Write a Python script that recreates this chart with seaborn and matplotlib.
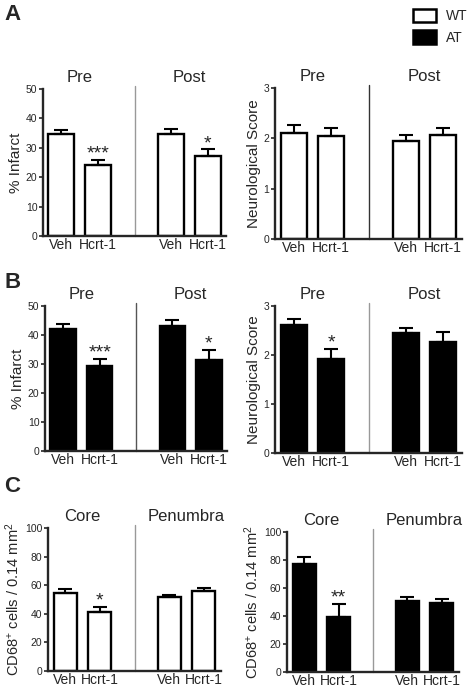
import numpy as np
import pandas as pd
import matplotlib
matplotlib.use('Agg')
import matplotlib.pyplot as plt
import seaborn as sns
from matplotlib.patches import Patch

sns.set_style('ticks')
plt.rcParams['font.family'] = ['Liberation Sans', 'DejaVu Sans']
plt.rcParams['mathtext.fontset'] = 'custom'
plt.rcParams['mathtext.rm'] = 'Liberation Sans'
plt.rcParams['mathtext.it'] = 'Liberation Sans:italic'

# bar positions (gap at 2 between the two groups)
pos = [0, 1, 3, 4]
treat = ['Veh', 'Hcrt-1', 'Veh', 'Hcrt-1']

# A - WT
a_inf = [34.8, 24.2, 34.8, 27.2]
a_inf_err = [1.4, 1.8, 1.7, 2.3]
a_inf_stars = ['', '***', '', '*']
a_neu = [2.11, 2.05, 1.95, 2.07]
a_neu_err = [0.15, 0.16, 0.12, 0.14]
a_neu_stars = ['', '', '', '']

# B - AT
b_inf = [42.1, 29.3, 43.2, 31.5]
b_inf_err = [1.7, 2.5, 2.1, 3.4]
b_inf_stars = ['', '***', '', '*']
b_neu = [2.61, 1.91, 2.44, 2.26]
b_neu_err = [0.13, 0.21, 0.12, 0.20]
b_neu_stars = ['', '*', '', '']

# C - CD68+ cells
c_wt = [54.4, 41.0, 51.4, 55.8]
c_wt_err = [2.6, 3.8, 1.6, 2.0]
c_wt_stars = ['', '*', '', '']
c_at = [77.1, 39.3, 50.5, 49.3]
c_at_err = [4.8, 9.3, 2.8, 3.1]
c_at_stars = ['', '**', '', '']

time_groups = ['Pre', 'Post']
region_groups = ['Core', 'Penumbra']

fig = plt.figure(figsize=(4.74, 6.9), dpi=100)


def panel(rect, vals, errs, stars, color, ymax, step, ylabel, groups,
          divcolor='#999999', width=0.7, ylabel_size=11):
    ax = fig.add_axes(rect)
    df = pd.DataFrame({'pos': pos, 'val': vals})
    sns.barplot(data=df, x='pos', y='val', native_scale=True, color=color,
                saturation=1, edgecolor='black', linewidth=1.7, width=width,
                errorbar=None, ax=ax, zorder=2)
    ax.errorbar(pos, vals, yerr=[np.zeros(len(vals)), errs], fmt='none',
                ecolor='black', elinewidth=1.5, capsize=5, capthick=1.5,
                zorder=3)
    ax.set_xlim(-0.5, 4.5)
    ax.set_ylim(0, ymax)
    ax.set_yticks(np.arange(0, ymax + step / 2, step))
    ax.set_xticks(pos)
    ax.set_xticklabels(treat)
    ax.tick_params(axis='x', length=0, pad=1.5, labelsize=10)
    ax.tick_params(axis='y', length=3, width=1.2, pad=1, labelsize=7.5)
    sns.despine(ax=ax)
    for s in ['left', 'bottom']:
        ax.spines[s].set_linewidth(1.7)
    ax.set_xlabel('')
    ax.set_ylabel(ylabel, fontsize=ylabel_size, labelpad=2)
    ax.axvline(2, ymin=0, ymax=1.02, color=divcolor, lw=1, clip_on=False)
    for x, t in zip([0.5, 3.5], groups):
        ax.annotate(t, xy=(x, 1), xycoords=('data', 'axes fraction'),
                    xytext=(0, 3), textcoords='offset points',
                    ha='center', va='bottom', fontsize=12)
    for p, v, e, s in zip(pos, vals, errs, stars):
        if s:
            ax.annotate(s, xy=(p, v + e), xytext=(0, -2),
                        textcoords='offset points', ha='center',
                        va='bottom', fontsize=14)
    return ax


cd68 = 'CD68$^{+}$ cells / 0.14 mm$^{2}$'

# A
panel([43 / 474, 1 - 236 / 690, 183 / 474, 147 / 690], a_inf, a_inf_err,
      a_inf_stars, 'white', 50, 10, '% Infarct', time_groups)
panel([275 / 474, 1 - 239 / 690, 187 / 474, 151 / 690], a_neu, a_neu_err,
      a_neu_stars, 'white', 3, 1, 'Neurological Score', time_groups,
      divcolor='#333333')
# B
panel([45 / 474, 1 - 451 / 690, 182 / 474, 145 / 690], b_inf, b_inf_err,
      b_inf_stars, 'black', 50, 10, '% Infarct', time_groups,
      divcolor='#555555')
panel([275 / 474, 1 - 453 / 690, 187 / 474, 147 / 690], b_neu, b_neu_err,
      b_neu_stars, 'black', 3, 1, 'Neurological Score', time_groups)
# C
panel([48 / 474, 1 - 671 / 690, 173 / 474, 143 / 690], c_wt, c_wt_err,
      c_wt_stars, 'white', 100, 20, cd68, region_groups, width=0.67,
      ylabel_size=10.5)
panel([287 / 474, 1 - 672 / 690, 172 / 474, 140 / 690], c_at, c_at_err,
      c_at_stars, 'black', 100, 20, cd68, region_groups, width=0.67,
      ylabel_size=10.5)

# panel letters
for lab, y in zip(['A', 'B', 'C'], [14, 282, 487]):
    fig.text(4 / 474, 1 - y / 690, lab, fontsize=16, fontweight='bold',
             ha='left', va='center')

# legend
handles = [Patch(facecolor='white', edgecolor='black', linewidth=1.8),
           Patch(facecolor='black', edgecolor='black', linewidth=1.8)]
fig.legend(handles, ['WT', 'AT'], loc='upper left',
           bbox_to_anchor=(413 / 474, 1 - 9 / 690), frameon=False,
           fontsize=10, handlelength=1.65, handleheight=1.1,
           handletextpad=0.7, labelspacing=0.5, borderpad=0,
           borderaxespad=0)

fig.savefig('out.png', dpi=100)
